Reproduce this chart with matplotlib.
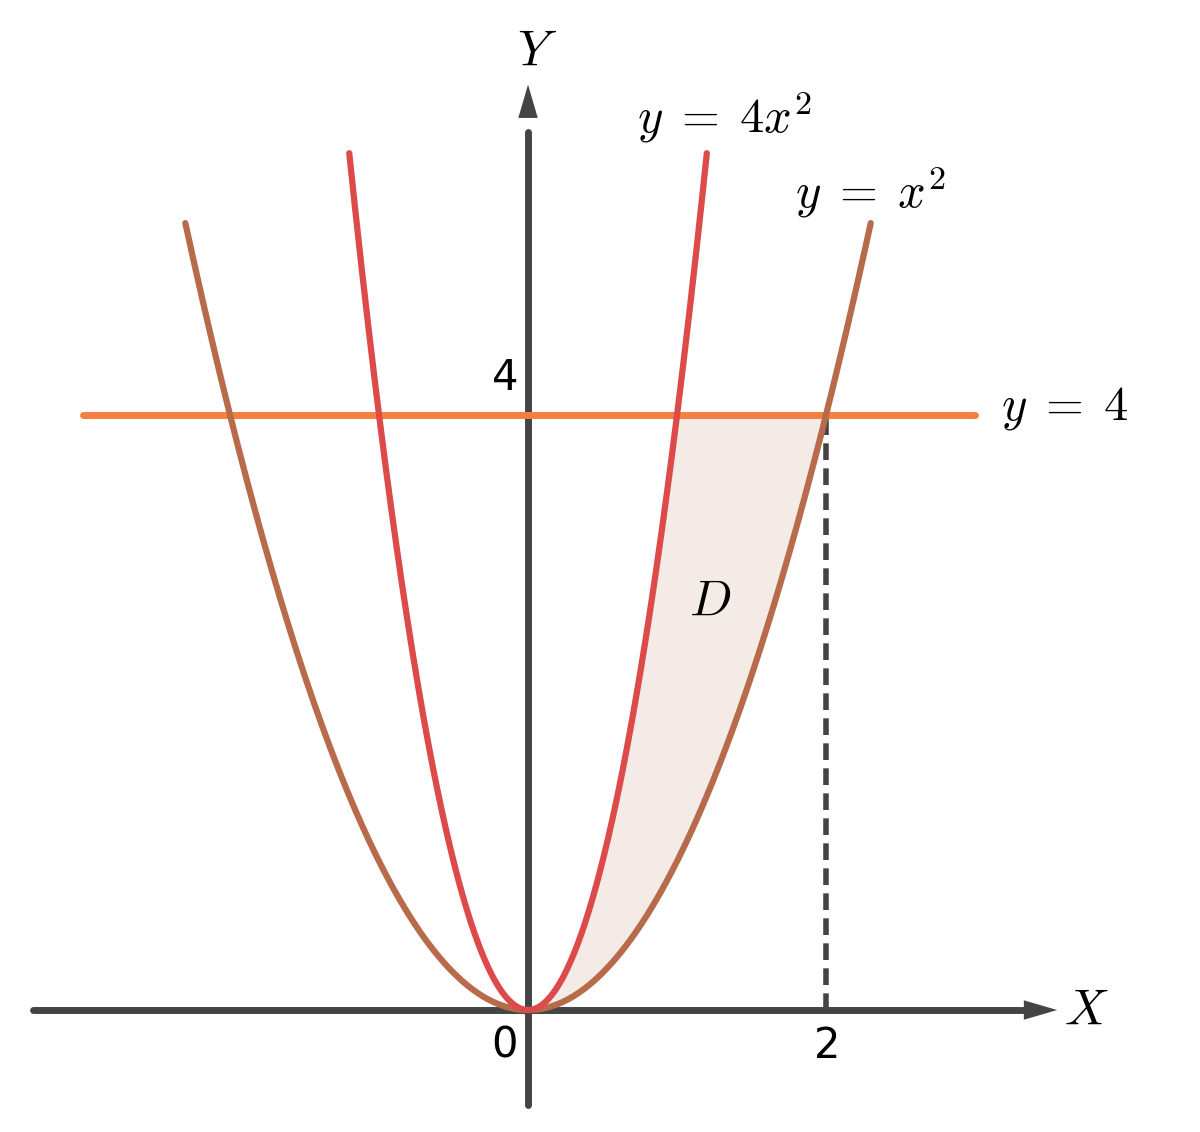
import numpy as np
import matplotlib
matplotlib.use("Agg")
import matplotlib.pyplot as plt

plt.rcParams["mathtext.fontset"] = "cm"

# curve definitions: coefficient a in y = a*x^2, x extent, colour, label
PARABOLA_COEF = [1, 4]
PARABOLA_XMAX = [2.30, 1.20]
PARABOLA_COLORS = ["#b86b4b", "#dc4a4a"]
PARABOLA_LABELS = [r"$y\;=\;x^2$", r"$y\;=\;4x^2$"]
PARABOLA_LABEL_POS = [(2.30, 5.5), (1.32, 6.0)]
HLINE_Y = 4
HLINE_X = (-2.99, 3.0)
X_TICK, Y_TICK = 2, 4

fig = plt.figure(figsize=(12, 11.32), dpi=100)
ax = fig.add_axes([0, 0, 1, 1])
ax.set_xlim(-3.544, 4.51)
ax.set_ylim(-0.82, 6.79)
ax.axis("off")

# shaded region D between x = sqrt(y)/2 and x = sqrt(y)
ys = np.linspace(0, HLINE_Y, 300)
ax.fill_betweenx(ys, np.sqrt(ys / 4), np.sqrt(ys), color="#f4ebe6", zorder=1)

# axes
ax.plot([-3.32, 3.35], [0, 0], color="#444444", lw=5, solid_capstyle="round", zorder=2)
ax.plot([0, 0], [-0.64, 5.9], color="#444444", lw=5, solid_capstyle="round", zorder=2)
ax.annotate("", xy=(3.57, 0), xytext=(3.2, 0),
            arrowprops=dict(arrowstyle="-|>,head_length=2.4,head_width=0.7", color="#444444", lw=0))
ax.annotate("", xy=(0, 6.24), xytext=(0, 5.85),
            arrowprops=dict(arrowstyle="-|>,head_length=2.4,head_width=0.7", color="#444444", lw=0))

# dashed drop line
ax.plot([X_TICK, X_TICK], [0, HLINE_Y], color="#444444", lw=4, ls=(0, (3, 1.5)), zorder=2)

# horizontal line
ax.plot(HLINE_X, [HLINE_Y, HLINE_Y], color="#f57f3f", lw=5, solid_capstyle="round", zorder=3)

for a, xm, c in zip(PARABOLA_COEF, PARABOLA_XMAX, PARABOLA_COLORS):
    xs = np.linspace(-xm, xm, 400)
    ax.plot(xs, a * xs ** 2, color=c, lw=4.5, solid_capstyle="round", zorder=4)

for lab, (lx, ly) in zip(PARABOLA_LABELS, PARABOLA_LABEL_POS):
    ax.text(lx, ly, lab, fontsize=35, ha="center", va="center")
ax.text(3.6, HLINE_Y + 0.05, r"$y\;=\;4$", fontsize=35, ha="center", va="center")

ax.text(0.06, 6.45, "$Y$", fontsize=36, ha="center", va="center")
ax.text(3.75, 0.0, "$X$", fontsize=36, ha="center", va="center")
ax.text(1.22, 2.75, "$D$", fontsize=36, ha="center", va="center")

tick_style = dict(fontsize=30, ha="center", va="center", fontweight="medium")
ax.text(-0.15, Y_TICK + 0.25, str(Y_TICK), **tick_style)
ax.text(-0.16, -0.24, "0", **tick_style)
ax.text(X_TICK + 0.01, -0.24, str(X_TICK), **tick_style)

fig.savefig("out.png", dpi=100, facecolor="white")
